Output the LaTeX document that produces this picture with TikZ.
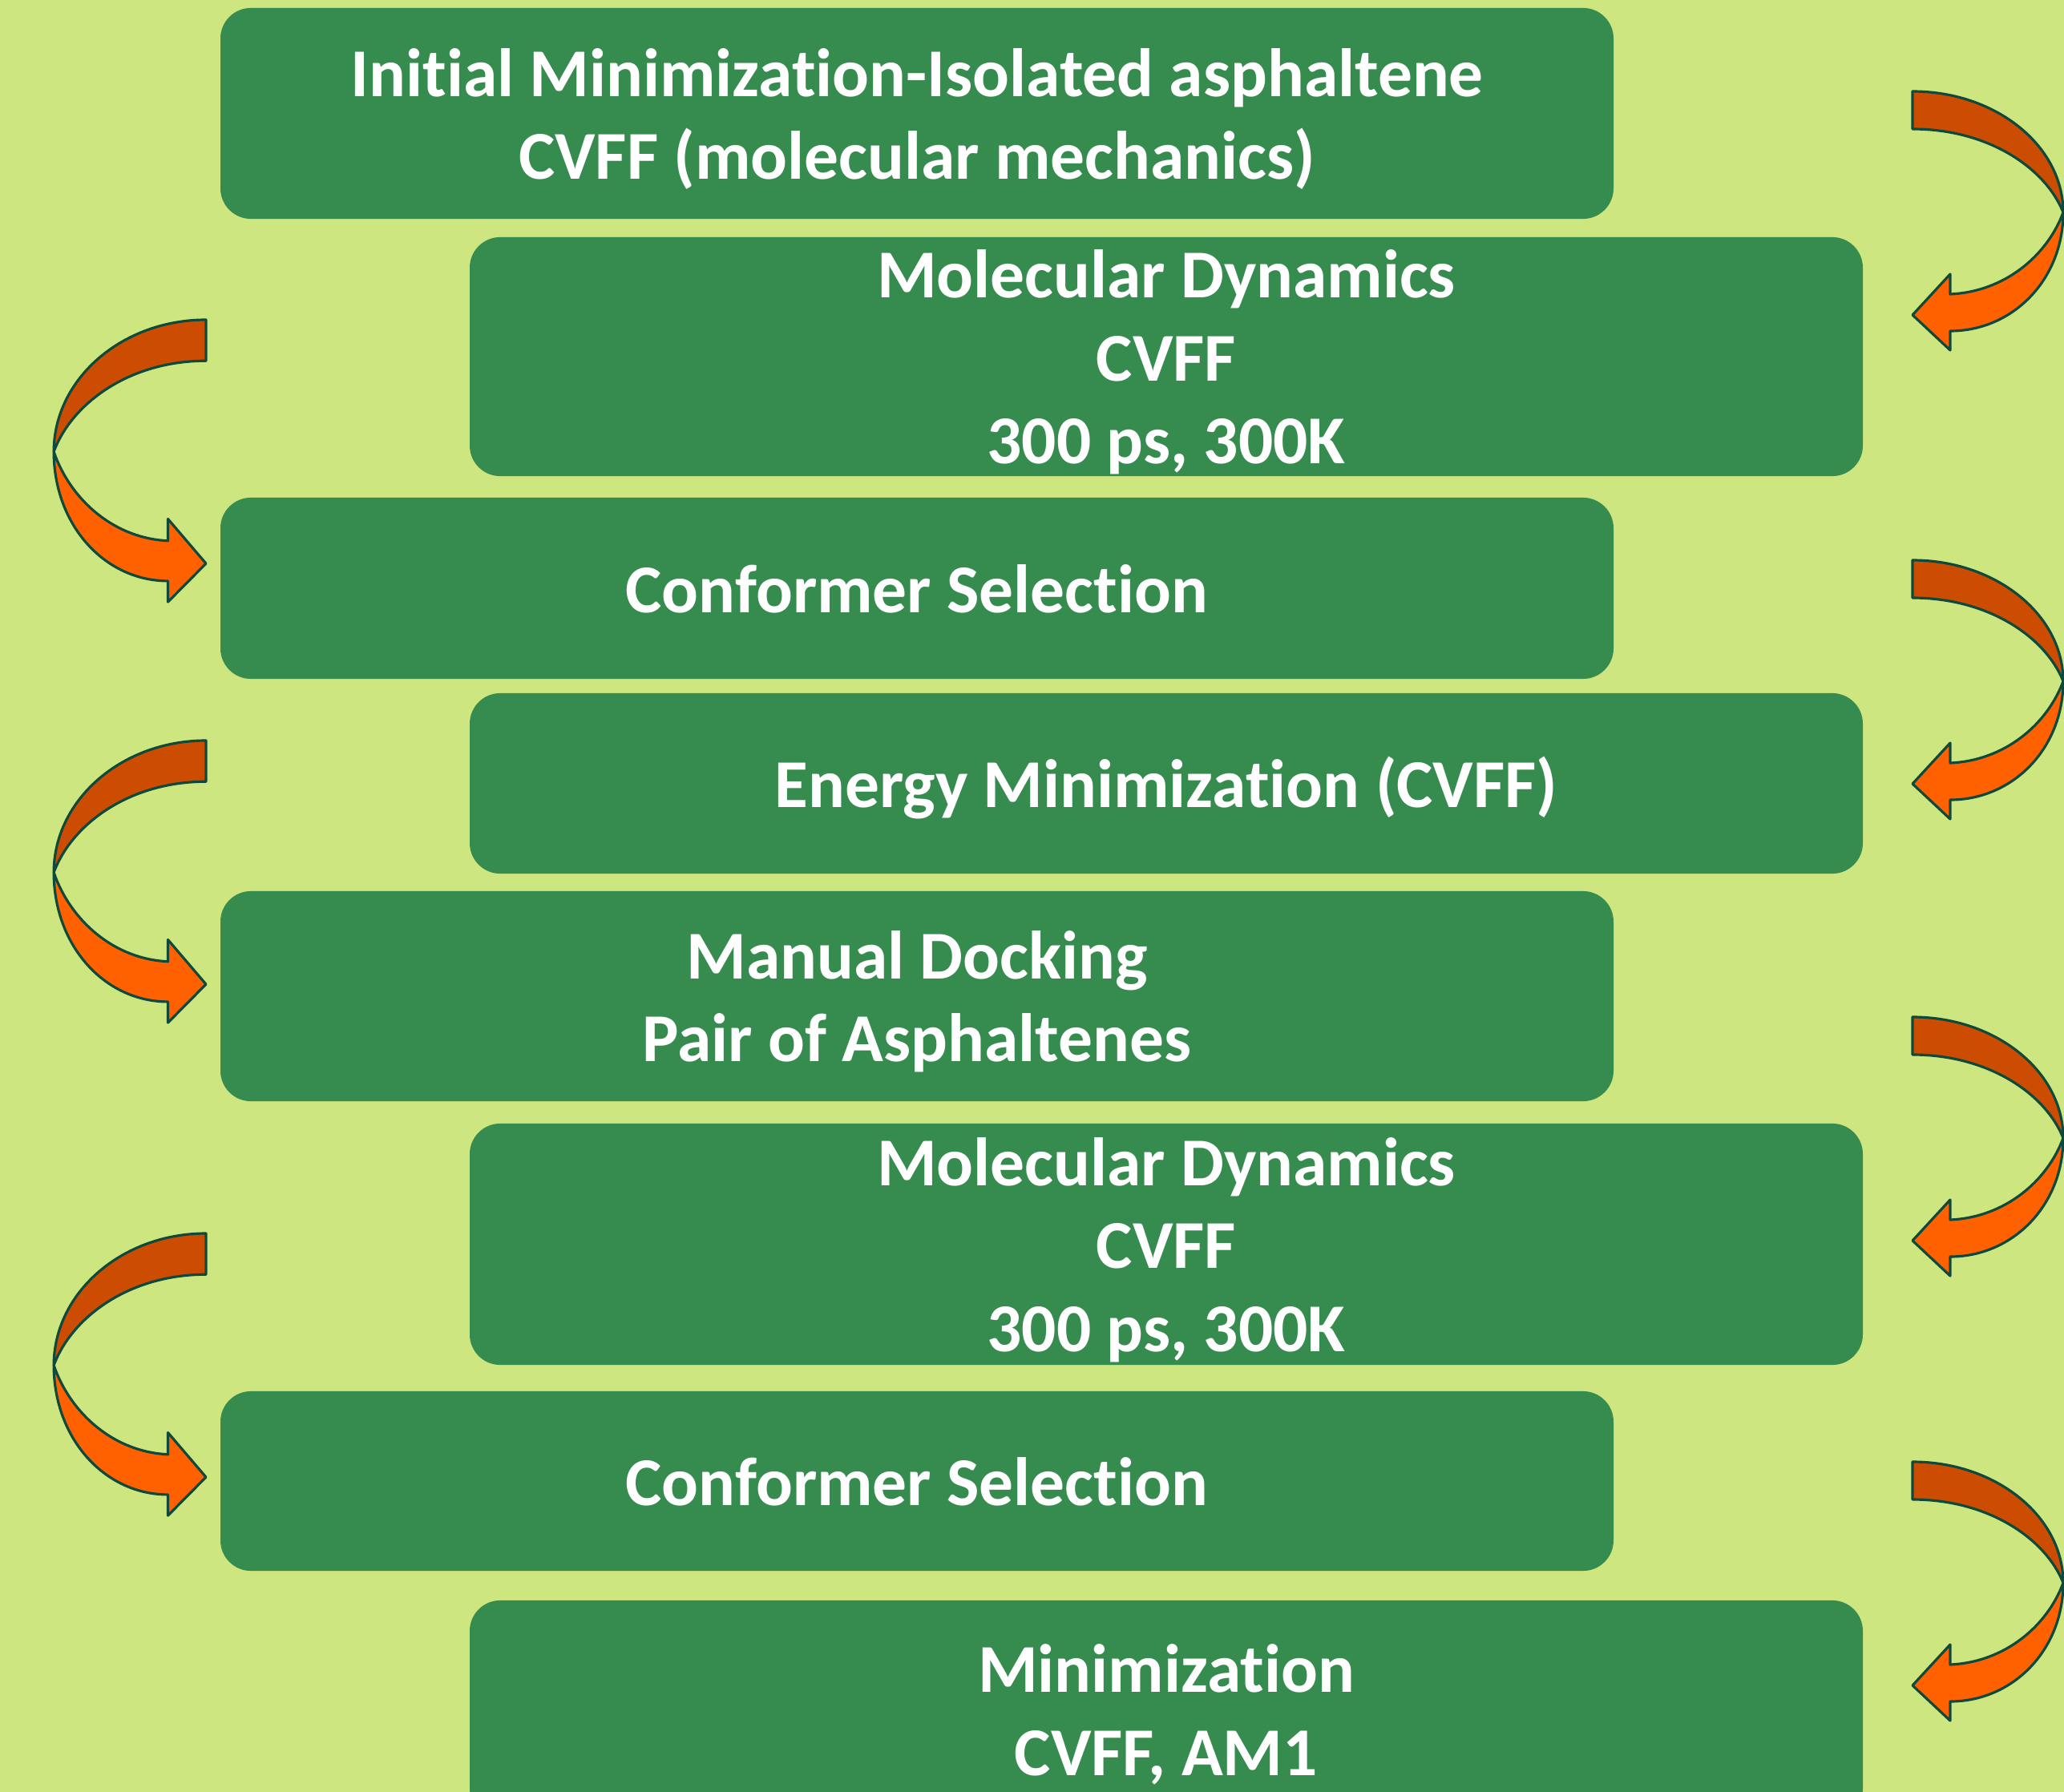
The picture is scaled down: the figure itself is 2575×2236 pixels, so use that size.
\documentclass[tikz,border=0pt]{standalone}
\usepackage{fontspec}
\setmainfont{Carlito}[Ligatures=NoCommon, Contextuals=NoAlternate]
\usepackage{xcolor}

\definecolor{bggreen}{HTML}{CDE680}
\definecolor{boxgreen}{HTML}{368C4E}
\definecolor{arrowdark}{HTML}{CC4C02}
\definecolor{arrowlight}{HTML}{FF6000}
\definecolor{arrowline}{HTML}{0E4A3B}

% line strut, so every text line sits the same way in its box
\newcommand{\ls}{\rule[-3.7pt]{0pt}{24.7pt}}

\tikzset{
  flowbox/.style={fill=boxgreen, rounded corners=0.38cm, text=white,
    font=\fontsize{24.3}{29.4}\selectfont\bfseries, align=center,
    minimum width=17.37cm, inner sep=0pt},
  arrowpart/.style={draw=arrowline, line width=0.9pt, line join=round}
}

% one bent arrow, tail at the origin, turning right and down
\newcommand{\bentarrow}{%
  \filldraw[arrowpart, fill=arrowdark] (0,0) .. controls (104,0) and (188,68) .. (188,151)
      .. controls (166,96) and (95,47) .. (0,47) -- cycle;
  \filldraw[arrowpart, fill=arrowlight] (188,151) .. controls (188,235) and (125,299) .. (47,299)
      -- (47,323) -- (0,279) -- (47,228) -- (47,253)
      .. controls (115,250) and (168,205) .. (188,151) -- cycle;
}

\begin{document}
\begin{tikzpicture}[x=0.01cm, y=-0.01cm]
  \useasboundingbox (0,0) rectangle (2575,2236);
  \clip (0,0) rectangle (2575,2236);
  \fill[bggreen] (0,0) rectangle (2575,2236);

  % --- 1. THE STEPS ---
  \node[flowbox, minimum height=2.63cm] (initmin) at (1144,141.5)
    {\ls Initial Minimization-Isolated asphaltene\\\ls CVFF (molecular mechanics)};
  \node[flowbox, minimum height=2.98cm] (moldyn1) at (1455,445)
    {\ls Molecular Dynamics\\\ls CVFF\\\ls 300 ps, 300K};
  \node[flowbox, minimum height=2.26cm] (confsel1) at (1144,734)
    {\ls Conformer Selection};
  \node[flowbox, minimum height=2.25cm] (energymin) at (1455,977.5)
    {\ls Energy Minimization (CVFF)};
  \node[flowbox, minimum height=2.62cm] (docking) at (1144,1243)
    {\ls Manual Docking\\\ls Pair of Asphaltenes};
  \node[flowbox, minimum height=3.01cm] (moldyn2) at (1455,1552.5)
    {\ls Molecular Dynamics\\\ls CVFF\\\ls 300 ps, 300K};
  \node[flowbox, minimum height=2.24cm] (confsel2) at (1144,1848)
    {\ls Conformer Selection};
  \node[flowbox, minimum height=2.72cm] (finalmin) at (1455,2133)
    {\ls Minimization\\\ls CVFF, AM1};

  % --- 2. THE BENT ARROWS ---
  % right side
  \foreach \y in {114,699,1269,1824} {
    \begin{scope}[shift={(2386,\y)}]
      \bentarrow
    \end{scope}
  }
  % left side (mirrored, a bit taller)
  \foreach \y in {399,924,1539} {
    \begin{scope}[shift={(257,\y)}, xscale=-1.01, yscale=1.09]
      \bentarrow
    \end{scope}
  }
\end{tikzpicture}
\end{document}
